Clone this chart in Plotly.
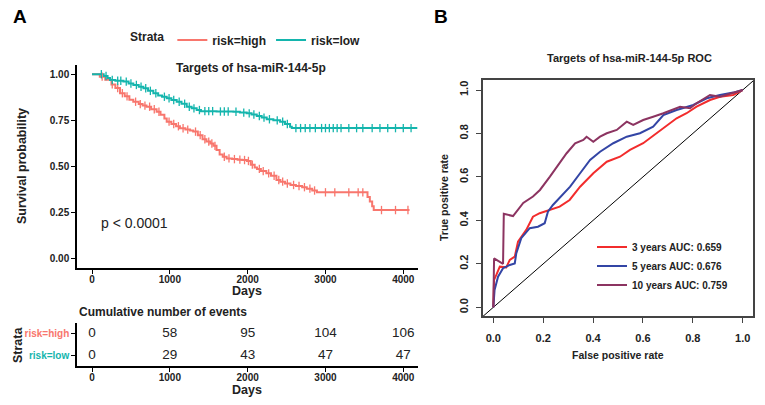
import numpy as np
import plotly.graph_objects as go

# ---------------- Data ----------------
HIGH_COLOR = "#F8766D"
LOW_COLOR = "#14B5AD"

high_time = [0, 100, 170, 250, 300, 360, 420, 480, 530, 600, 650, 700, 760, 830, 880, 930, 960,
             1020, 1080, 1130, 1200, 1260, 1300, 1360, 1420, 1470, 1520, 1560, 1600, 1640, 1680,
             1730, 1800, 1870, 1930, 1990, 2040, 2090, 2120, 2170, 2240, 2300, 2370, 2420, 2480,
             2550, 2620, 2700, 2760, 2830, 2890, 3540, 3570, 3600, 3620, 4080]
high_surv = [1.0, 0.987, 0.97, 0.945, 0.925, 0.897, 0.88, 0.862, 0.851, 0.838, 0.83, 0.824, 0.81,
             0.797, 0.78, 0.76, 0.743, 0.73, 0.718, 0.707, 0.70, 0.695, 0.689, 0.67, 0.648, 0.635,
             0.625, 0.612, 0.59, 0.565, 0.553, 0.544, 0.54, 0.537, 0.535, 0.53, 0.51, 0.495, 0.487,
             0.475, 0.463, 0.45, 0.427, 0.418, 0.408, 0.40, 0.394, 0.388, 0.38, 0.37, 0.36, 0.335,
             0.31, 0.285, 0.264, 0.264]

low_time = [0, 150, 200, 231, 300, 403, 470, 531, 600, 660, 720, 788, 850, 900, 960, 1020, 1088,
            1150, 1217, 1280, 1345, 1400, 1600, 1817, 1900, 1988, 2050, 2117, 2180, 2245, 2330,
            2417, 2480, 2545, 2567, 4180]
low_surv = [1.0, 0.99, 0.98, 0.969, 0.965, 0.96, 0.95, 0.942, 0.932, 0.924, 0.91, 0.897, 0.885,
            0.878, 0.87, 0.86, 0.851, 0.84, 0.824, 0.815, 0.806, 0.80, 0.798, 0.797, 0.792, 0.788,
            0.782, 0.774, 0.765, 0.756, 0.75, 0.743, 0.73, 0.716, 0.708, 0.708]

high_censor = [130, 260, 330, 390, 450, 560, 620, 680, 740, 800, 860, 990, 1050, 1110, 1170, 1230,
               1330, 1390, 1450, 1500, 1540, 1580, 1700, 1760, 1830, 1900, 1960, 2010, 2060, 2150,
               2200, 2270, 2340, 2400, 2450, 2510, 2590, 2660, 2730, 2800, 2860, 3000, 3120, 3300,
               3420, 3480, 3720, 3900, 4060]
low_censor = [120, 180, 260, 330, 370, 440, 500, 570, 630, 690, 750, 820, 930, 990, 1050, 1120,
              1190, 1250, 1310, 1380, 1450, 1500, 1550, 1650, 1700, 1750, 1850, 1950, 2020, 2080,
              2150, 2210, 2280, 2380, 2450, 2510, 2620, 2680, 2740, 2800, 2870, 2950, 3000, 3050,
              3100, 3150, 3200, 3300, 3400, 3480, 3600, 3700, 3800, 3900, 4000, 4100]

table_times = [0, 1000, 2000, 3000, 4000]
events_high = [0, 58, 95, 104, 106]
events_low = [0, 29, 43, 47, 47]

x_ticks = [0, 1000, 2000, 3000, 4000]
y_ticks = [0, 0.25, 0.5, 0.75, 1.0]
y_ticktext = ["0.00", "0.25", "0.50", "0.75", "1.00"]

roc3_fpr = [0, 0.003, 0.012, 0.026, 0.052, 0.066, 0.086, 0.099, 0.132, 0.159, 0.186, 0.226, 0.266,
            0.306, 0.348, 0.401, 0.455, 0.508, 0.548, 0.601, 0.655, 0.695, 0.735, 0.775, 0.815,
            0.869, 0.909, 0.962, 1.0]
roc3_tpr = [0, 0.126, 0.149, 0.187, 0.184, 0.218, 0.233, 0.302, 0.356, 0.417, 0.433, 0.448, 0.463,
            0.494, 0.555, 0.617, 0.670, 0.693, 0.724, 0.755, 0.801, 0.839, 0.870, 0.893, 0.923,
            0.954, 0.969, 0.977, 1.0]

roc5_fpr = [0, 0.005, 0.019, 0.039, 0.066, 0.086, 0.092, 0.112, 0.146, 0.179, 0.206, 0.219, 0.239,
            0.270, 0.308, 0.348, 0.388, 0.428, 0.481, 0.535, 0.588, 0.641, 0.682, 0.735, 0.802,
            0.856, 0.909, 0.962, 1.0]
roc5_tpr = [0, 0.08, 0.141, 0.18, 0.195, 0.202, 0.248, 0.318, 0.364, 0.371, 0.387, 0.44, 0.471,
            0.51, 0.555, 0.617, 0.678, 0.716, 0.755, 0.785, 0.801, 0.831, 0.885, 0.908, 0.931,
            0.962, 0.977, 0.988, 1.0]

roc10_fpr = [0, 0.003, 0.039, 0.04, 0.042, 0.079, 0.092, 0.106, 0.12, 0.159, 0.187, 0.227, 0.267,
             0.294, 0.328, 0.361, 0.374, 0.401, 0.428, 0.455, 0.495, 0.535, 0.561, 0.601, 0.641,
             0.682, 0.749, 0.789, 0.815, 0.869, 0.909, 0.962, 1.0]
roc10_tpr = [0, 0.225, 0.20, 0.36, 0.43, 0.42, 0.44, 0.463, 0.48, 0.51, 0.540, 0.601, 0.663,
             0.709, 0.755, 0.770, 0.785, 0.762, 0.785, 0.801, 0.816, 0.854, 0.839, 0.862, 0.877,
             0.893, 0.923, 0.916, 0.939, 0.977, 0.969, 0.985, 1.0]

roc_labels = ["3 years AUC: 0.659", "5 years AUC: 0.676", "10 years AUC: 0.759"]
roc_colors = ["#F22C2C", "#3345A5", "#8C3461"]
roc_ticks = [0, 0.2, 0.4, 0.6, 0.8, 1.0]
roc_ticktext = ["0.0", "0.2", "0.4", "0.6", "0.8", "1.0"]

# ---------------- Helpers ----------------
W, H = 765, 405
FONT = "Liberation Sans, Arial, sans-serif"


def px(x):
    return x / W


def py(y):
    return 1 - y / H


def step_lookup(times, surv, t):
    idx = np.searchsorted(np.array(times), np.array(t), side="right") - 1
    return np.array(surv)[idx]


fig = go.Figure()

# Survival curves
fig.add_trace(go.Scatter(x=high_time, y=high_surv, mode="lines", line=dict(color=HIGH_COLOR, width=2, shape="hv"),
                         name="risk=high", xaxis="x", yaxis="y", legend="legend"))
fig.add_trace(go.Scatter(x=low_time, y=low_surv, mode="lines", line=dict(color=LOW_COLOR, width=2, shape="hv"),
                         name="risk=low", xaxis="x", yaxis="y", legend="legend"))
fig.add_trace(go.Scatter(x=high_censor, y=step_lookup(high_time, high_surv, high_censor), mode="markers",
                         marker=dict(symbol="line-ns-open", size=6, color=HIGH_COLOR,
                                     line=dict(color=HIGH_COLOR, width=1.3)),
                         showlegend=False, xaxis="x", yaxis="y"))
fig.add_trace(go.Scatter(x=low_censor, y=step_lookup(low_time, low_surv, low_censor), mode="markers",
                         marker=dict(symbol="line-ns-open", size=6, color=LOW_COLOR,
                                     line=dict(color=LOW_COLOR, width=1.3)),
                         showlegend=False, xaxis="x", yaxis="y"))

# Risk table
fig.add_trace(go.Scatter(x=table_times, y=[1] * len(table_times), mode="text", text=[str(v) for v in events_high],
                         textfont=dict(size=13.5, color="#222", family=FONT), showlegend=False,
                         xaxis="x2", yaxis="y2", cliponaxis=False))
fig.add_trace(go.Scatter(x=table_times, y=[0] * len(table_times), mode="text", text=[str(v) for v in events_low],
                         textfont=dict(size=13.5, color="#222", family=FONT), showlegend=False,
                         xaxis="x2", yaxis="y2", cliponaxis=False))

# ROC
fig.add_trace(go.Scatter(x=[-0.1, 1.1], y=[-0.1, 1.1], mode="lines", line=dict(color="black", width=1),
                         showlegend=False, xaxis="x3", yaxis="y3"))
for fx, ty, lab, col in zip([roc3_fpr, roc5_fpr, roc10_fpr], [roc3_tpr, roc5_tpr, roc10_tpr], roc_labels, roc_colors):
    fig.add_trace(go.Scatter(x=fx, y=ty, mode="lines", line=dict(color=col, width=2), name=lab,
                             xaxis="x3", yaxis="y3", legend="legend2"))

axis_common = dict(showline=True, linecolor="black", linewidth=1.5, ticks="outside", ticklen=4,
                   tickcolor="black", tickwidth=1.2, showgrid=False, zeroline=False,
                   tickfont=dict(family=FONT, size=10, color="#222", weight="bold"))

xdom = [px(77), px(418)]
xrange_days = [-193, 4189]

fig.update_layout(
    width=W, height=H, margin=dict(l=0, r=0, t=0, b=0),
    paper_bgcolor="white", plot_bgcolor="white",
    font=dict(family=FONT, color="#222"),
    xaxis=dict(domain=xdom, range=xrange_days, tickvals=x_ticks, anchor="y", ticklabelstandoff=-3, **axis_common),
    yaxis=dict(domain=[py(268), py(65)], range=[-0.05, 1.05], tickvals=y_ticks, ticktext=y_ticktext,
               anchor="x", **axis_common),
    xaxis2=dict(domain=xdom, range=xrange_days, tickvals=x_ticks, anchor="y2", ticklabelstandoff=-3, **axis_common),
    yaxis2=dict(domain=[py(366), py(323)], range=[-0.5, 1.5], tickvals=[1, 0],
                ticktext=[f'<span style="color:{HIGH_COLOR}">risk=high</span>',
                          f'<span style="color:{LOW_COLOR}">risk=low</span>'],
                anchor="x2", **axis_common),
    xaxis3=dict(domain=[px(483), px(753)], range=[-0.0414, 1.0414], tickvals=roc_ticks, ticktext=roc_ticktext,
                anchor="y3", mirror=True, showline=True, linecolor="#444", linewidth=1.5, ticks="outside",
                ticklen=5, tickcolor="#444", showgrid=False, zeroline=False, ticklabelstandoff=6,
                tickfont=dict(family=FONT, size=11, color="#222", weight="bold")),
    yaxis3=dict(domain=[py(316), py(80)], range=[-0.040, 1.046], tickvals=roc_ticks, ticktext=roc_ticktext,
                anchor="x3", mirror=True, showline=True, linecolor="#444", linewidth=1.5, ticks="outside",
                ticklen=5, tickcolor="#444", showgrid=False, zeroline=False, tickangle=-90, ticklabelstandoff=4,
                tickfont=dict(family=FONT, size=11, color="#222", weight="bold")),
    legend=dict(orientation="h", x=px(247), xanchor="center", y=py(40), yanchor="middle",
                title=dict(text="<b>Strata</b>", font=dict(size=12, family=FONT, color="#222")),
                font=dict(size=12, family=FONT, color="#222", weight="bold"), bgcolor="rgba(0,0,0,0)",
                itemwidth=30),
    legend2=dict(orientation="v", x=px(592), xanchor="left", y=py(266), yanchor="middle",
                 font=dict(size=10, family=FONT, color="#222", weight="bold"), bgcolor="rgba(0,0,0,0)",
                 tracegroupgap=0, itemwidth=30),
)

ann = []


def add_text(text, x, y, size, bold=True, angle=0, xanchor="center", xref="paper", yref="paper", color="#222"):
    ann.append(dict(text=f"<b>{text}</b>" if bold else text, x=x, y=y, xref=xref, yref=yref, showarrow=False,
                    textangle=angle, xanchor=xanchor, yanchor="middle",
                    font=dict(size=size, family=FONT, color=color)))


add_text("A", px(20), py(17), 19, color="black")
add_text("B", px(441), py(17), 19, color="black")
add_text("Targets of hsa-miR-144-5p", px(251), py(68), 12)
add_text("Survival probability", px(22), py(166), 12.5, angle=-90)
add_text("Days", px(247), py(291), 12.5)
add_text("p < 0.0001", 95, 0.195, 14, bold=False, xanchor="left", xref="x", yref="y")
add_text("Cumulative number of events", px(77), py(312), 12, xanchor="left")
add_text("Strata", px(18), py(345), 12.5, angle=-90)
add_text("Days", px(247), py(390), 12.5)
add_text("Targets of hsa-miR-144-5p ROC", px(629), py(58), 11)
add_text("False positive rate", px(618), py(355), 10.5)
add_text("True positive rate", px(444), py(198), 10.5, angle=-90)

fig.update_layout(annotations=ann)

fig.write_html("out.html", config={"displayModeBar": False},
               post_script="document.body.style.margin='0';document.body.style.padding='0';")
